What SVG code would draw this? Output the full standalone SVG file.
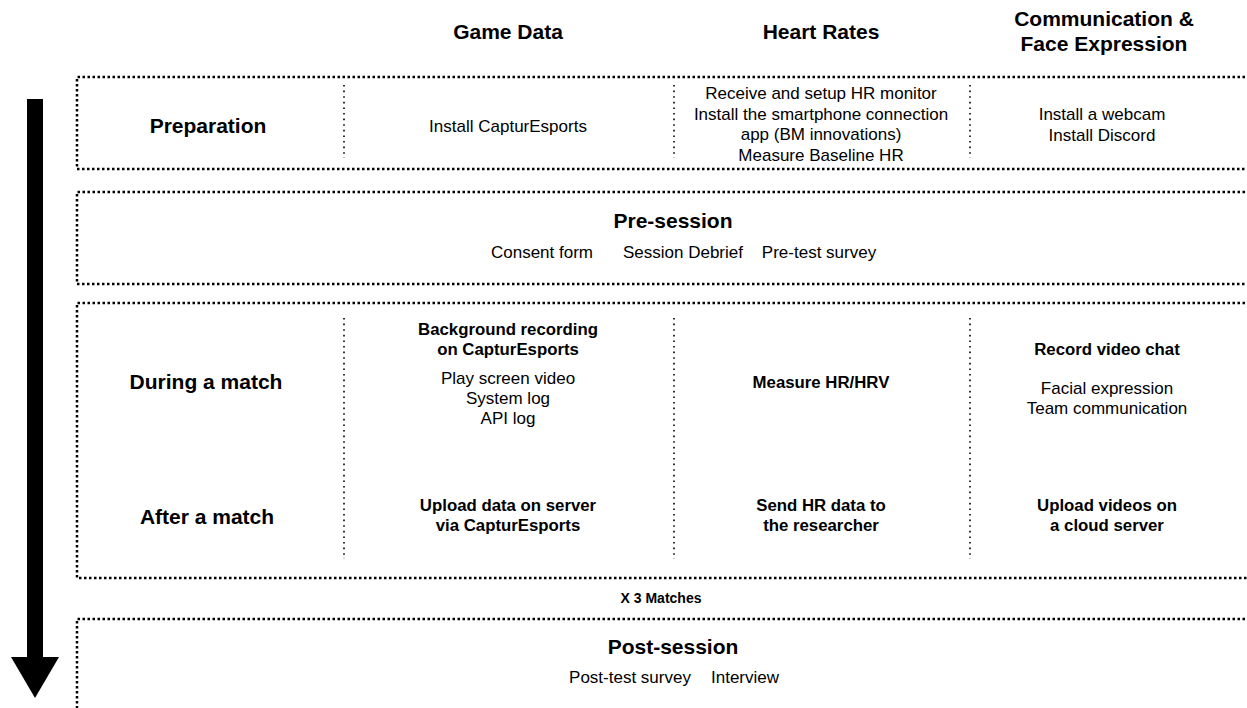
<svg xmlns="http://www.w3.org/2000/svg" width="1247" height="708" viewBox="0 0 1247 708">
<style>
  text { font-family: "Liberation Sans", Arial, Helvetica, sans-serif; fill: #000; text-anchor: middle; }
  .hdr { font-size: 21px; font-weight: bold; }
  .row { font-size: 21px; font-weight: bold; }
  .item { font-size: 17px; }
  .itemb { font-size: 16.8px; font-weight: bold; }
  .small { font-size: 14px; font-weight: bold; }
  .box { fill: none; stroke: #000; stroke-width: 2.5; stroke-dasharray: 2.5 2.5; }
  .div { fill: none; stroke: #000; stroke-width: 1.6; stroke-dasharray: 1.6 4; }
</style>
<rect width="1247" height="708" fill="#fff"/>

<g id="headers">
  <text class="hdr" x="508" y="39">Game Data</text>
  <text class="hdr" x="821" y="39">Heart Rates</text>
  <text class="hdr" x="1104" y="26">Communication &amp;</text>
  <text class="hdr" x="1104" y="51">Face Expression</text>
</g>

<g id="timeline-arrow">
  <rect x="27" y="99" width="16" height="559" fill="#000"/>
  <polygon points="11,657 59,657 35,698" fill="#000"/>
</g>

<g id="preparation">
  <path class="box" d="M1250,77 H77 V169 H1250"/>
  <line class="div" x1="344" y1="85" x2="344" y2="158"/>
  <line class="div" x1="674" y1="85" x2="674" y2="158"/>
  <line class="div" x1="970" y1="85" x2="970" y2="158"/>
  <text class="row" x="208" y="133">Preparation</text>
  <text class="item" x="508" y="132">Install CapturEsports</text>
  <text class="item" x="821" y="99">Receive and setup HR monitor</text>
  <text class="item" x="821" y="119.5">Install the smartphone connection</text>
  <text class="item" x="821" y="140">app (BM innovations)</text>
  <text class="item" x="821" y="160.5">Measure Baseline HR</text>
  <text class="item" x="1102" y="120">Install a webcam</text>
  <text class="item" x="1102" y="140.5">Install Discord</text>
</g>

<g id="pre-session">
  <path class="box" d="M1250,192 H77 V284 H1250"/>
  <text class="row" x="673" y="228">Pre-session</text>
  <text class="item" x="542" y="258">Consent form</text>
  <text class="item" x="683" y="258">Session Debrief</text>
  <text class="item" x="819" y="258">Pre-test survey</text>
</g>

<g id="match">
  <path class="box" d="M1250,303 H77 V578 H1250"/>
  <line class="div" x1="344" y1="318" x2="344" y2="559"/>
  <line class="div" x1="674" y1="318" x2="674" y2="559"/>
  <line class="div" x1="970" y1="318" x2="970" y2="559"/>
  <text class="row" x="206" y="389">During a match</text>
  <text class="itemb" x="508" y="335">Background recording</text>
  <text class="itemb" x="508" y="355">on CapturEsports</text>
  <text class="item" x="508" y="384">Play screen video</text>
  <text class="item" x="508" y="404">System log</text>
  <text class="item" x="508" y="424">API log</text>
  <text class="itemb" x="821" y="388">Measure HR/HRV</text>
  <text class="itemb" x="1107" y="355">Record video chat</text>
  <text class="item" x="1107" y="394">Facial expression</text>
  <text class="item" x="1107" y="414">Team communication</text>

  <text class="row" x="207" y="524">After a match</text>
  <text class="itemb" x="508" y="511">Upload data on server</text>
  <text class="itemb" x="508" y="531">via CapturEsports</text>
  <text class="itemb" x="821" y="511">Send HR data to</text>
  <text class="itemb" x="821" y="531">the researcher</text>
  <text class="itemb" x="1107" y="511">Upload videos on</text>
  <text class="itemb" x="1107" y="531">a cloud server</text>
</g>

<g id="repeat-label">
  <text class="small" x="661" y="603">X 3 Matches</text>
</g>

<g id="post-session">
  <path class="box" d="M1250,619 H77 V710"/>
  <text class="row" x="673" y="654">Post-session</text>
  <text class="item" x="630" y="683">Post-test survey</text>
  <text class="item" x="745" y="683">Interview</text>
</g>
</svg>
